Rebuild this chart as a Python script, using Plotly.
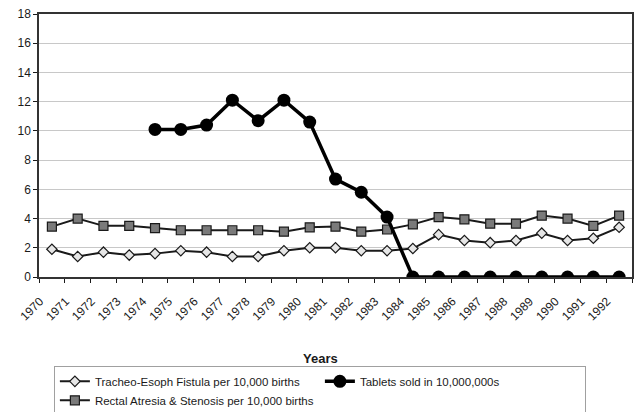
import plotly.graph_objects as go

# Categories: one per year
years = ["1970", "1971", "1972", "1973", "1974", "1975", "1976", "1977",
         "1978", "1979", "1980", "1981", "1982", "1983", "1984", "1985",
         "1986", "1987", "1988", "1989", "1990", "1991", "1992"]

# Tracheo-oesophageal fistula per 10,000 births
tracheo = [1.9, 1.4, 1.7, 1.5, 1.6, 1.8, 1.7, 1.4, 1.4, 1.8, 2.0, 2.0,
           1.8, 1.8, 1.95, 2.9, 2.5, 2.35, 2.5, 3.0, 2.5, 2.65, 3.4]

# Rectal atresia & stenosis per 10,000 births
rectal = [3.45, 4.0, 3.5, 3.5, 3.35, 3.2, 3.2, 3.2, 3.2, 3.1, 3.4, 3.45,
          3.1, 3.25, 3.6, 4.1, 3.95, 3.65, 3.65, 4.2, 4.0, 3.5, 4.2]

# Tablets sold, in units of 10,000,000 (no data before 1974)
tablets = [None, None, None, None, 10.1, 10.1, 10.4, 12.1, 10.7, 12.1, 10.6,
           6.7, 5.8, 4.1, 0, 0, 0, 0, 0, 0, 0, 0, 0]

FONT = "Liberation Sans, Arial, sans-serif"
INK = "#1a1a1a"

fig = go.Figure()

fig.add_trace(go.Scatter(
    x=years, y=rectal, mode="lines+markers",
    name="Rectal Atresia & Stenosis per 10,000 births",
    legendrank=3,
    line=dict(color=INK, width=2),
    marker=dict(symbol="square", size=9, color="#7a7a7a",
                line=dict(color=INK, width=1.2)),
))

fig.add_trace(go.Scatter(
    x=years, y=tracheo, mode="lines+markers",
    name="Tracheo-Esoph Fistula per 10,000 births",
    legendrank=1,
    line=dict(color=INK, width=2),
    marker=dict(symbol="diamond", size=8, color="#e6e6e6",
                line=dict(color=INK, width=1.2)),
))

fig.add_trace(go.Scatter(
    x=years, y=tablets, mode="lines+markers",
    name="Tablets sold in 10,000,000s",
    legendrank=2,
    connectgaps=False,
    line=dict(color="#000000", width=3.5),
    marker=dict(symbol="circle", size=13, color="#000000"),
))

fig.update_layout(
    width=634, height=412, autosize=False,
    margin=dict(l=39, r=2, t=14, b=135),
    paper_bgcolor="white", plot_bgcolor="white",
    font=dict(family=FONT, size=12, color=INK),
    showlegend=True,
    legend=dict(
        orientation="h",
        xref="container", yref="container",
        x=0.085, y=0.112, xanchor="left", yanchor="top",
        bordercolor="#a0a0a0", borderwidth=1,
        font=dict(family=FONT, size=11.5, color=INK),
        entrywidth=220, entrywidthmode="pixels",
        itemwidth=30, tracegroupgap=0,
    ),
    xaxis=dict(
        type="category", range=[-0.5, len(years) - 0.5],
        automargin=False,
        tickson="boundaries", ticks="outside", ticklen=4, tickcolor=INK,
        tickangle=-45, ticklabelshift=-12, ticklabelstandoff=11,
        tickfont=dict(family=FONT, size=12, color=INK),
        showgrid=False, showline=True, linecolor="#333333", linewidth=1.5,
        mirror=True, zeroline=False,
    ),
    yaxis=dict(
        range=[0, 18], dtick=2, tick0=0,
        automargin=False,
        ticks="outside", ticklen=4, tickcolor=INK,
        tickfont=dict(family=FONT, size=12, color=INK),
        showgrid=True, gridcolor="#c8c8c8", gridwidth=1,
        showline=True, linecolor="#333333", linewidth=1.5,
        mirror=True, zeroline=False,
    ),
    annotations=[dict(
        text="<b>Years</b>", xref="paper", yref="paper",
        x=0.4755, y=-0.308, xanchor="center", yanchor="middle",
        showarrow=False, font=dict(family=FONT, size=13, color=INK),
    )],
)

fig.write_html("out.html")
